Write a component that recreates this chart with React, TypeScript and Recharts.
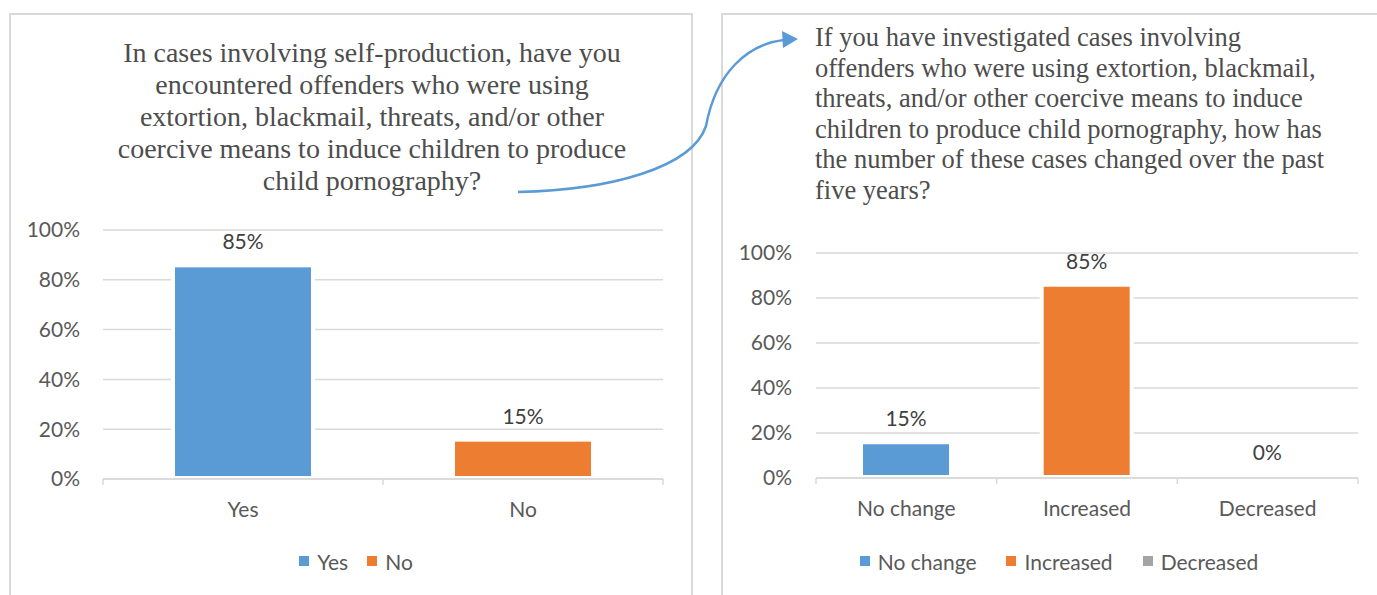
import { BarChart, Bar, XAxis, YAxis, CartesianGrid, LabelList, Cell } from 'recharts'

// survey answers, in percent
const leftCategories = ['Yes', 'No']
const leftValues = [85, 15]
const rightCategories = ['No change', 'Increased', 'Decreased']
const rightValues = [15, 85, 0]
const percentTicks = [0, 20, 40, 60, 80, 100]

const leftTitle = [
  'In cases involving self-production, have you',
  'encountered offenders who were using',
  'extortion, blackmail, threats, and/or other',
  'coercive means to induce children to produce',
  'child pornography?',
]
const rightTitle = [
  'If you have investigated cases involving',
  'offenders who were using extortion, blackmail,',
  'threats, and/or other coercive means to induce',
  'children to produce child pornography, how has',
  'the number of these cases changed over the past',
  'five years?',
]

const palette = ['#5B9BD5', '#ED7D31', '#A5A5A5']
const leftColors = [palette[0], palette[1]]
const rightColors = [palette[0], palette[1], palette[2]]

const leftData = leftCategories.map((name, i) => ({ name, value: leftValues[i] }))
const rightData = rightCategories.map((name, i) => ({ name, value: rightValues[i] }))

const sansFont = 'Lato, "Open Sans", sans-serif'
const serifFont = '"Liberation Serif", "Times New Roman", serif'
const tickColor = '#595959'
const gridColor = '#D9D9D9'

const pct = (v: any) => `${v}%`

// Excel-style bar: fill with a white halo that cuts the gridlines
function makeBarShape(colors: string[]) {
  return (props: any) => {
    const { x, y, width, height, index } = props
    if (!height || height <= 0) return <g />
    const fill = colors[index] ?? props.fill
    return (
      <g>
        <rect x={x - 4} y={y - 4} width={width + 8} height={height + 3} fill="#fff" />
        <rect x={x} y={y} width={width} height={height - 3} fill={fill} />
      </g>
    )
  }
}

// category labels plus tick marks at the band boundaries
function makeXTick(band: number, count: number) {
  return (props: any) => {
    const { x, y, payload, index } = props
    return (
      <g>
        <line x1={x - band / 2} x2={x - band / 2} y1={y} y2={y + 6} stroke={gridColor} strokeWidth={1.5} />
        {index === count - 1 && (
          <line x1={x + band / 2} x2={x + band / 2} y1={y} y2={y + 6} stroke={gridColor} strokeWidth={1.5} />
        )}
        <text
          x={x}
          y={y + 29}
          textAnchor="middle"
          dominantBaseline="central"
          fill={tickColor}
          fontSize={21}
          fontFamily={sansFont}
        >
          {payload.value}
        </text>
      </g>
    )
  }
}

function LegendRow({ names, colors, center, gap }: { names: string[]; colors: string[]; center: number; gap: number }) {
  return (
    <div
      style={{
        position: 'absolute',
        left: center - 300,
        top: 548,
        width: 600,
        height: 26,
        display: 'flex',
        justifyContent: 'center',
        alignItems: 'center',
        fontFamily: sansFont,
        fontSize: 21,
        color: tickColor,
      }}
    >
      {names.map((n, i) => (
        <div key={n} style={{ display: 'flex', alignItems: 'center', marginLeft: i === 0 ? 0 : gap }}>
          <span style={{ width: 10, height: 10, background: colors[i], marginRight: 8, display: 'inline-block' }} />
          <span>{n}</span>
        </div>
      ))}
    </div>
  )
}

export default function App() {
  return (
    <div style={{ position: 'absolute', left: 0, top: 0, width: 1377, height: 595, overflow: 'hidden', background: '#fff' }}>
      {/* panel frames */}
      <div style={{ position: 'absolute', left: 9, top: 13, width: 684, height: 620, border: `2px solid ${gridColor}`, boxSizing: 'border-box' }} />
      <div style={{ position: 'absolute', left: 721, top: 13, width: 700, height: 620, border: `2px solid ${gridColor}`, boxSizing: 'border-box' }} />

      {/* left title */}
      <div
        style={{
          position: 'absolute',
          left: 72,
          top: 37,
          width: 600,
          textAlign: 'center',
          fontFamily: serifFont,
          fontSize: 28,
          lineHeight: '32px',
          color: '#4D4D4D',
          whiteSpace: 'nowrap',
        }}
      >
        {leftTitle.map((l) => (
          <div key={l}>{l}</div>
        ))}
      </div>

      {/* right title */}
      <div
        style={{
          position: 'absolute',
          left: 815,
          top: 22,
          fontFamily: serifFont,
          fontSize: 26.5,
          lineHeight: '30.6px',
          color: '#4D4D4D',
          whiteSpace: 'nowrap',
        }}
      >
        {rightTitle.map((l) => (
          <div key={l}>{l}</div>
        ))}
      </div>

      {/* left chart */}
      <div style={{ position: 'absolute', left: 0, top: 0 }}>
        <BarChart width={700} height={595} data={leftData} margin={{ top: 230, right: 37, bottom: 76, left: 43 }}>
          <CartesianGrid vertical={false} stroke={gridColor} strokeWidth={1.5} />
          <XAxis
            dataKey="name"
            height={40}
            axisLine={{ stroke: gridColor, strokeWidth: 1.5 }}
            tickLine={false}
            tickSize={0}
            tickMargin={0}
            tick={makeXTick(280, leftCategories.length)}
            interval={0}
          />
          <YAxis
            width={60}
            domain={[0, 100]}
            ticks={percentTicks}
            tickFormatter={pct}
            axisLine={false}
            tickLine={false}
            tickSize={0}
            tickMargin={23}
            tick={{ fill: tickColor, fontSize: 21, fontFamily: sansFont }}
          />
          <Bar dataKey="value" barSize={136} isAnimationActive={false} shape={makeBarShape(leftColors)}>
            {leftData.map((d, i) => (
              <Cell key={d.name} fill={leftColors[i]} />
            ))}
            <LabelList dataKey="value" position="top" offset={18} formatter={pct} fill="#404040" fontSize={21} fontFamily={sansFont} />
          </Bar>
        </BarChart>
      </div>

      {/* right chart */}
      <div style={{ position: 'absolute', left: 700, top: 0 }}>
        <BarChart width={677} height={595} data={rightData} margin={{ top: 253, right: 19, bottom: 77, left: 56 }}>
          <CartesianGrid vertical={false} stroke={gridColor} strokeWidth={1.5} />
          <XAxis
            dataKey="name"
            height={40}
            axisLine={{ stroke: gridColor, strokeWidth: 1.5 }}
            tickLine={false}
            tickSize={0}
            tickMargin={0}
            tick={makeXTick(542 / 3, rightCategories.length)}
            interval={0}
          />
          <YAxis
            width={60}
            domain={[0, 100]}
            ticks={percentTicks}
            tickFormatter={pct}
            axisLine={false}
            tickLine={false}
            tickSize={0}
            tickMargin={24}
            tick={{ fill: tickColor, fontSize: 21, fontFamily: sansFont }}
          />
          <Bar dataKey="value" barSize={86} isAnimationActive={false} shape={makeBarShape(rightColors)}>
            {rightData.map((d, i) => (
              <Cell key={d.name} fill={rightColors[i]} />
            ))}
            <LabelList dataKey="value" position="top" offset={18} formatter={pct} fill="#404040" fontSize={21} fontFamily={sansFont} />
          </Bar>
        </BarChart>
      </div>

      <LegendRow names={leftCategories} colors={leftColors} center={356} gap={19} />
      <LegendRow names={rightCategories} colors={rightColors} center={1059} gap={30} />

      {/* connector arrow between the two questions */}
      <svg width={1377} height={595} style={{ position: 'absolute', left: 0, top: 0, pointerEvents: 'none' }}>
        <path
          d="M 518 192 C 610 190, 692 168, 706 126 C 716 72, 748 44, 784 40"
          fill="none"
          stroke="#5B9BD5"
          strokeWidth={2.5}
        />
        <polygon points="798,39 782,31 783,48" fill="#5B9BD5" />
      </svg>
    </div>
  )
}
